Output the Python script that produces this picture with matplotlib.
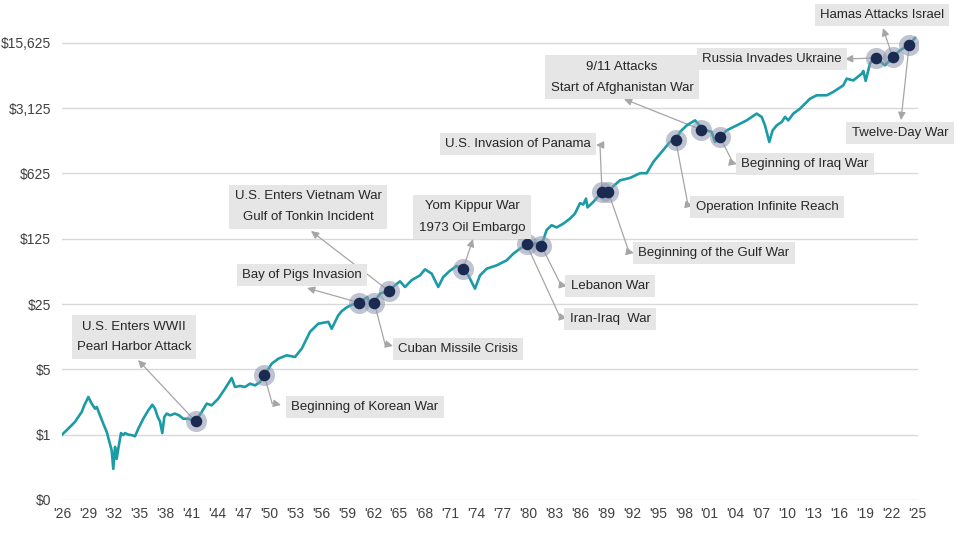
import numpy as np
import matplotlib
matplotlib.use("Agg")
import matplotlib.pyplot as plt
from matplotlib.ticker import FixedLocator, FixedFormatter, NullLocator

plt.rcParams['font.family'] = ['Liberation Sans', 'DejaVu Sans']

# ---------------- data (growth of $1) ----------------
years = [1926.00, 1926.73, 1927.50, 1928.28, 1928.58, 1929.05, 1929.44, 1929.82, 1930.02, 1930.40,
         1930.78, 1931.18, 1931.44, 1931.75, 1931.94, 1932.14, 1932.33, 1932.52, 1932.83, 1933.10,
         1933.30, 1933.68, 1934.07, 1934.45, 1934.84, 1935.41, 1935.99, 1936.46, 1936.77, 1937.08,
         1937.35, 1937.61, 1937.85, 1938.12, 1938.50, 1939.08, 1939.55, 1940.05, 1940.62, 1941.46,
         1942.18, 1942.76, 1943.33, 1944.10, 1944.87, 1945.65, 1946.03, 1946.61, 1947.19, 1947.77,
         1948.35, 1948.93, 1949.43, 1950.28, 1951.05, 1952.02, 1952.98, 1953.76, 1954.72, 1955.68,
         1956.84, 1957.23, 1957.99, 1958.40, 1958.97, 1959.55, 1960.43, 1961.35, 1961.75, 1962.16,
         1962.82, 1963.86, 1964.56, 1965.14, 1965.72, 1966.49, 1967.45, 1968.03, 1968.81, 1969.57,
         1970.15, 1970.93, 1971.70, 1972.43, 1973.05, 1973.82, 1974.40, 1975.18, 1976.33, 1977.49,
         1978.26, 1979.03, 1979.79, 1980.57, 1980.75, 1981.50, 1982.12, 1982.70, 1983.28, 1984.05,
         1984.82, 1985.40, 1985.98, 1986.36, 1986.68, 1986.85, 1987.52, 1988.53, 1989.26, 1989.84,
         1990.61, 1991.77, 1992.93, 1993.70, 1994.47, 1995.44, 1996.40, 1997.06, 1997.56, 1998.34,
         1999.30, 1999.68, 1999.99, 2000.65, 2001.23, 2001.61, 2002.19, 2002.97, 2004.13, 2005.28,
         2006.44, 2007.02, 2007.40, 2007.90, 2008.29, 2008.76, 2009.34, 2009.72, 2010.10, 2010.68,
         2011.46, 2012.62, 2013.39, 2014.55, 2015.31, 2016.47, 2016.86, 2017.63, 2018.60, 2018.79,
         2019.06, 2019.56, 2019.94, 2020.23, 2021.29, 2022.19, 2023.03, 2024.10, 2024.77]
values = [1.00, 1.16, 1.37, 1.75, 2.06, 2.53, 2.15, 1.90, 1.98, 1.61,
          1.31, 1.07, 0.87, 0.68, 0.43, 0.74, 0.55, 0.71, 1.04, 0.99,
          1.04, 1.00, 0.99, 0.96, 1.16, 1.48, 1.82, 2.09, 1.90, 1.55,
          1.38, 1.04, 1.55, 1.68, 1.61, 1.68, 1.61, 1.48, 1.48, 1.39,
          1.75, 2.15, 2.06, 2.43, 3.10, 4.04, 3.24, 3.32, 3.24, 3.51,
          3.37, 3.66, 4.31, 5.75, 6.50, 7.06, 6.78, 8.32, 12.6, 15.4,
          16.1, 13.6, 18.9, 21.0, 23.0, 24.5, 25.8, 29.7, 23.8, 25.8,
          32.3, 34.5, 39.6, 43.7, 38.0, 45.0, 50.6, 58.7, 52.8, 38.0,
          48.7, 56.8, 63.8, 58.7, 50.6, 36.5, 50.6, 59.7, 64.8, 73.3,
          86.4, 97.7, 108.7, 106, 112, 105, 155, 174, 165, 181,
          205, 232, 300, 290, 335, 270, 309, 395, 395, 455,
          526, 558, 627, 627, 828, 1059, 1355, 1409, 1733, 2037,
          2306, 2125, 1834, 1803, 1733, 1355, 1532, 1803, 2037, 2306,
          2722, 2507, 2037, 1355, 1803, 2037, 2217, 2507, 2306, 2722,
          3077, 3936, 4275, 4275, 4645, 5460, 6440, 6170, 7280, 7780,
          6090, 9330, 10545, 10720, 8940, 10900, 12940, 14890, 17550]

ytick_vals = [0.2, 1, 5, 25, 125, 625, 3125, 15625]
ytick_labels = ['$0', '$1', '$5', '$25', '$125', '$625', '$3,125', '$15,625']
xtick_years = list(range(1926, 2026, 3))
xtick_labels = ["'%02d" % (y % 100) for y in xtick_years]

event_labels = ["U.S. Enters WWII\nPearl Harbor Attack", "Beginning of Korean War",
                "Bay of Pigs Invasion", "Cuban Missile Crisis",
                "U.S. Enters Vietnam War\nGulf of Tonkin Incident", "Yom Kippur War\n1973 Oil Embargo",
                "Iran-Iraq  War", "Lebanon War", "U.S. Invasion of Panama",
                "Beginning of the Gulf War", "Operation Infinite Reach",
                "9/11 Attacks\nStart of Afghanistan War", "Beginning of Iraq War",
                "Russia Invades Ukraine", "Hamas Attacks Israel", "Twelve-Day War"]
event_years = [1941.46, 1949.43, 1960.43, 1962.16, 1963.86, 1972.43, 1979.79, 1981.50,
               1988.53, 1989.26, 1997.06, 1999.99, 2002.19, 2020.23, 2022.19, 2024.10]

# ---------------- layout (reference pixel positions, top-left origin) ----------------
W, H = 975, 541
label_centers = [(134, 337), (365, 407), (302, 275), (458, 349), (308, 207), (472, 217),
                 (610, 319), (610, 286), (518, 144), (714, 253), (767, 207), (622, 77),
                 (805, 164), (772, 59), (882, 15), (900, 133)]
arrow_paths = [[(138, 360)], [(272, 403), (281, 405)], [(307, 288)], [(385, 344), (393, 346)],
               [(311, 231)], [(473, 239)], [(560, 317), (567, 318)], [(561, 285), (567, 286)],
               [(600, 145), (596, 145)], [(629, 252), (634, 253)], [(688, 205), (693, 206)],
               [(624, 99)], [(733, 163), (737, 164)], [(845, 59)], [(883, 28)], [(901, 120)]]

fig = plt.figure(figsize=(W / 100, H / 100), dpi=100)
fig.patch.set_facecolor('white')
px_per_year = 8.636
px_per_f5 = 65.33
ax = fig.add_axes([62 / W, 41 / H, 856 / W, 490 / H])
ax.set_yscale('log', base=5)
ax.set_xlim(1926, 1926 + 856 / px_per_year)
ax.set_ylim(0.2, 0.2 * 5 ** (490 / px_per_f5))

ax.plot(years, values, color='#1a9ba6', lw=1.9, zorder=3, solid_joinstyle='round')

ax.yaxis.set_major_locator(FixedLocator(ytick_vals))
ax.yaxis.set_major_formatter(FixedFormatter(ytick_labels))
ax.yaxis.set_minor_locator(NullLocator())
ax.set_xticks(xtick_years)
ax.set_xticklabels(xtick_labels)
ax.tick_params(axis='both', length=0, labelsize=10, colors='#404040')
ax.tick_params(axis='y', pad=8)
ax.tick_params(axis='x', pad=5)
ax.grid(axis='y', color='#d9d9d9', lw=1.0, zorder=0)
ax.grid(axis='x', visible=False)
for s in ax.spines.values():
    s.set_visible(False)


def pix(p):
    return tuple(ax.transData.inverted().transform((p[0], H - p[1])))


logv = np.log(values)
ev_vals = np.exp(np.interp(event_years, years, logv))

arrow_col = '#a6a6a6'
for lab, ex, ey, ctr, path in zip(event_labels, event_years, ev_vals, label_centers, arrow_paths):
    pts = [(ex, ey)] + [pix(p) for p in path]
    if len(pts) > 2:
        xs = [p[0] for p in pts[:-1]]
        ys = [p[1] for p in pts[:-1]]
        ax.plot(xs, ys, color=arrow_col, lw=0.9, zorder=2, clip_on=False)
    ax.annotate('', xy=pts[-1], xytext=pts[-2], zorder=2, annotation_clip=False,
                arrowprops=dict(arrowstyle='-|>,head_length=0.45,head_width=0.22',
                                color=arrow_col, lw=0.9, shrinkA=0, shrinkB=0))
    tx, ty = pix(ctr)
    ax.text(tx, ty, lab, ha='center', va='center', fontsize=9.5, color='#262626',
            linespacing=2.0, zorder=7, clip_on=False,
            bbox=dict(boxstyle='square,pad=0.4', fc='#e6e6e6', ec='none'))

ax.scatter(event_years, ev_vals, s=230, color='#8d95ad', alpha=0.55, zorder=5, linewidths=0)
ax.scatter(event_years, ev_vals, s=70, color='#1b2a50', zorder=6, linewidths=0)

fig.savefig('out.png', dpi=100)
